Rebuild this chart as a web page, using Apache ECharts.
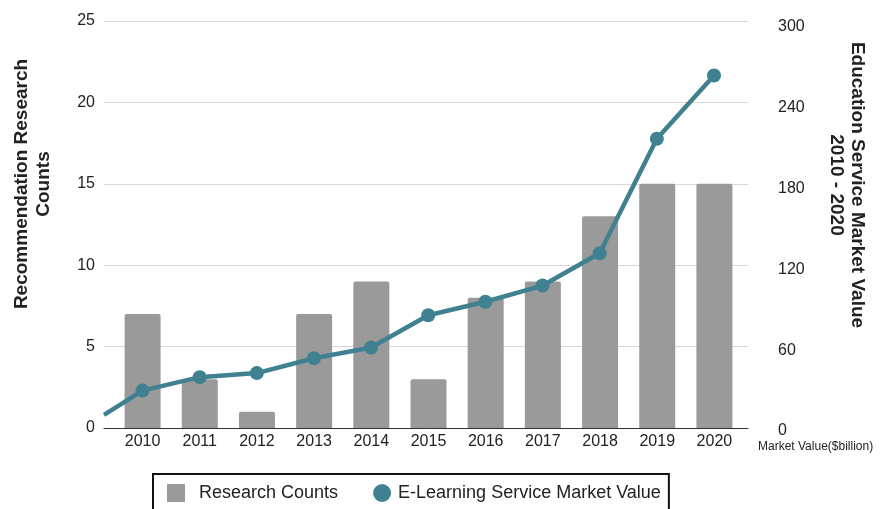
<!DOCTYPE html>
<html>
<head>
<meta charset="utf-8">
<script src="https://cdn.jsdelivr.net/npm/echarts@6/dist/echarts.min.js"></script>
<style>
  html, body { margin: 0; padding: 0; background: #fff; }
  #chart { width: 883px; height: 509px; }
</style>
</head>
<body>
<div id="chart"></div>
<script>
const years = ['2010', '2011', '2012', '2013', '2014', '2015', '2016', '2017', '2018', '2019', '2020']
const researchCounts = [7, 3, 1, 7, 9, 3, 8, 9, 13, 15, 15]
const marketValue = [30, 40, 43, 54, 62, 86, 96, 108, 132, 217, 264]
const lineStartValue = 12
const countTicks = [0, 25, 5]
const valueTicks = [0, 300, 60]

const barColor = '#9a9a9a'
const lineColor = '#3f8190'
const textColor = '#222'
const font = 'Liberation Sans, Arial, sans-serif'

// line starts at the left plot edge, so it sits on a hidden value axis
const xMin = -0.674
const xMax = 10.595
const lineData = [[xMin, lineStartValue]].concat(marketValue.map((v, i) => [i, v]))

const chart = echarts.init(document.getElementById('chart'))
chart.setOption({
  animation: false,
  textStyle: { fontFamily: font },
  grid: [
    { left: 104, right: 135, top: 21, bottom: 81 },  // gridlines, left axis
    { left: 114, right: 140, top: 21, bottom: 81 },  // bars
    { left: 104, right: 135, top: 27, bottom: 78 }   // right axis + line
  ],
  legend: {
    left: 153,
    top: 474,
    padding: [10, 8, 20, 14],
    borderColor: '#111',
    borderWidth: 2,
    itemGap: 35,
    itemWidth: 18,
    itemHeight: 18,
    textStyle: { fontSize: 18, color: textColor, fontFamily: font },
    data: [
      { name: 'Research Counts', icon: 'rect', textStyle: { padding: [0, 0, 0, 9] } },
      { name: 'E-Learning Service Market Value', icon: 'circle', textStyle: { padding: [0, 0, 0, 2] } }
    ]
  },
  xAxis: [
    {
      type: 'value',
      gridIndex: 0,
      min: xMin,
      max: xMax,
      axisLine: { show: true, lineStyle: { color: '#333', width: 1 } },
      axisTick: { show: false },
      axisLabel: { show: false },
      splitLine: { show: false }
    },
    {
      type: 'category',
      gridIndex: 1,
      data: years,
      axisLine: { show: false },
      axisTick: { show: false },
      axisLabel: { fontSize: 16, color: textColor, margin: 6 }
    },
    {
      type: 'value',
      gridIndex: 2,
      min: xMin,
      max: xMax,
      show: false
    }
  ],
  yAxis: [
    {
      type: 'value',
      gridIndex: 0,
      min: countTicks[0],
      max: countTicks[1],
      interval: countTicks[2],
      axisLine: { show: false },
      axisTick: { show: false },
      axisLabel: { fontSize: 16, color: textColor, margin: 9 },
      splitLine: { lineStyle: { color: '#d6d6d6', width: 1 } }
    },
    {
      type: 'value',
      gridIndex: 1,
      min: countTicks[0],
      max: countTicks[1],
      show: false
    },
    {
      type: 'value',
      gridIndex: 2,
      position: 'right',
      min: valueTicks[0],
      max: valueTicks[1],
      interval: valueTicks[2],
      axisLine: { show: false },
      axisTick: { show: false },
      axisLabel: { fontSize: 16, color: textColor, margin: 30, align: 'left' },
      splitLine: { show: false }
    }
  ],
  series: [
    {
      name: 'Research Counts',
      type: 'bar',
      xAxisIndex: 1,
      yAxisIndex: 1,
      barWidth: 36,
      itemStyle: { color: barColor, borderRadius: [2, 2, 0, 0] },
      data: researchCounts
    },
    {
      name: 'E-Learning Service Market Value',
      type: 'line',
      xAxisIndex: 2,
      yAxisIndex: 2,
      symbol: 'circle',
      symbolSize: 14,
      showSymbol: true,
      lineStyle: { color: lineColor, width: 4.5 },
      itemStyle: { color: lineColor },
      data: lineData.map((d, i) => i === 0 ? { value: d, symbol: 'none' } : d)
    }
  ],
  graphic: [
    {
      type: 'text',
      x: 33,
      y: 184,
      rotation: Math.PI / 2,
      style: {
        text: 'Recommendation Research\nCounts',
        font: 'bold 19px ' + font,
        fill: textColor,
        align: 'center',
        verticalAlign: 'middle',
        lineHeight: 22
      }
    },
    {
      type: 'text',
      x: 847,
      y: 185,
      rotation: -Math.PI / 2,
      style: {
        text: 'Education Service Market Value\n2010 - 2020',
        font: 'bold 19px ' + font,
        fill: textColor,
        align: 'center',
        verticalAlign: 'middle',
        lineHeight: 21
      }
    },
    {
      type: 'text',
      x: 758,
      y: 441,
      style: {
        text: 'Market Value($billion)',
        font: '12px ' + font,
        fill: textColor
      }
    }
  ]
})
</script>
</body>
</html>
